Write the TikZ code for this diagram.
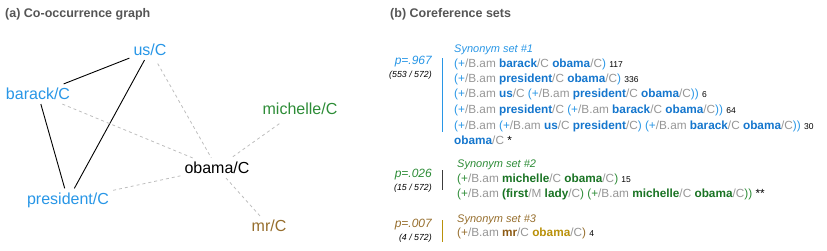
\documentclass[tikz,border=0pt]{standalone}
\usepackage{fontspec}
\setmainfont{Liberation Sans}
\usetikzlibrary{positioning}
\definecolor{CoBlue}{RGB}{40,150,230}
\definecolor{CoBlueDark}{RGB}{20,118,205}
\definecolor{CoGreen}{RGB}{45,140,55}
\definecolor{CoGreenDark}{RGB}{25,115,35}
\definecolor{CoBrown}{RGB}{150,110,45}
\definecolor{CoBrownDark}{RGB}{140,90,20}
\definecolor{CoGold}{RGB}{185,145,10}
\definecolor{CoGray}{RGB}{150,150,150}
\definecolor{CoTitle}{RGB}{85,85,85}
\definecolor{CoEdge}{RGB}{190,190,190}
\definecolor{CoBar}{RGB}{60,60,60}
\newcommand{\opn}{(+\textcolor{CoGray}{/B.am}}
\newcommand{\tgC}{\textcolor{CoGray}{/C}}
\newcommand{\tgM}{\textcolor{CoGray}{/M}}
\newcommand{\cnt}[1]{{\fontsize{8.5}{10}\selectfont\color{black}#1}}
\newcommand{\mrk}[1]{{\color{black}#1}}
\newcommand{\wb}[1]{\textcolor{CoBlueDark}{\bfseries #1}}
\newcommand{\wg}[1]{\textcolor{CoGreenDark}{\bfseries #1}}

\begin{document}
\begin{tikzpicture}[
          x=1pt, y=-1pt,
          word/.style={font=\fontsize{16}{19}\selectfont, inner sep=4pt},
          cooc/.style={black, line width=0.9pt},
          weak/.style={CoEdge, dash pattern=on 3pt off 3pt, line width=0.8pt},
          head/.style={font=\fontsize{12.5}{15}\selectfont\bfseries, text=CoTitle,
                       anchor=base west, inner sep=0pt},
          synset/.style={font=\fontsize{11}{13}\selectfont\itshape,
                         anchor=base west, inner sep=0pt},
          expr/.style={font=\fontsize{11.8}{14}\selectfont, anchor=base west, inner sep=0pt},
          prob/.style={font=\fontsize{12}{14}\selectfont\itshape, anchor=base east, inner sep=0pt},
          ratio/.style={font=\fontsize{8.8}{10}\selectfont\itshape, anchor=base east, inner sep=0pt},
          bar/.style={line width=1pt}
        ]
        \useasboundingbox (0,0) rectangle (827,250);

        \node[head] (ta) at (5,17) {(a) Co-occurrence graph};
        \node[head] (tb) at (390,17) {(b) Coreference sets};

        \node[word, text=CoBlue]  (us)   at (150,50)  {us/C};
        \node[word, text=CoBlue]  (bar)  at (38,94)   {barack/C};
        \node[word, text=CoGreen] (mich) at (300,109) {michelle/C};
        \node[word]               (oba)  at (217,168) {obama/C};
        \node[word, text=CoBlue]  (pres) at (68,200)  {president/C};
        \node[word, text=CoBrown] (mr)   at (269,226) {mr/C};

        \draw[cooc] (bar)--(us);
        \draw[cooc] (bar)--(pres);
        \draw[cooc] (us)--(pres);
        \draw[weak, shorten <=4pt] (us)--(oba);
        \draw[weak] (bar)--(oba);
        \draw[weak] (pres)--(oba);
        \draw[weak, shorten <=8pt] (mich)--(oba);
        \draw[weak] (mr)--(oba);

        \node[prob, text=CoBlue] (p1) at (432,64) {p=.967};
        \node[ratio] (r1) at (432,77) {(553 / 572)};
        \draw[bar, CoBlue] (442,58)--(442,132);
        \node[synset, text=CoBlue] (s1) at (454,52) {Synonym set \#1};
        \node[expr, text=CoBlue] (s1a) at (454,67)
              {\opn{} \wb{barack}\tgC{} \wb{obama}\tgC) \cnt{117}};
        \node[expr, text=CoBlue] (s1b) at (454,82)
              {\opn{} \wb{president}\tgC{} \wb{obama}\tgC) \cnt{336}};
        \node[expr, text=CoBlue] (s1c) at (454,97)
              {\opn{} \wb{us}\tgC{} \opn{} \wb{president}\tgC{} \wb{obama}\tgC)) \cnt{6}};
        \node[expr, text=CoBlue] (s1d) at (454,113)
              {\opn{} \wb{president}\tgC{} \opn{} \wb{barack}\tgC{} \wb{obama}\tgC)) \cnt{64}};
        \node[expr, text=CoBlue] (s1e) at (454,129)
              {\opn{} \opn{} \wb{us}\tgC{} \wb{president}\tgC) \opn{} \wb{barack}\tgC{} \wb{obama}\tgC)) \cnt{30}};
        \node[expr, text=CoBlue] (s1f) at (454,144)
              {\wb{obama}\tgC{} \mrk{*}};

        \node[prob, text=CoGreen] (p2) at (432,177) {p=.026};
        \node[ratio] (r2) at (432,190) {(15 / 572)};
        \draw[bar, CoBar] (442,170)--(442,190);
        \node[synset, text=CoGreen] (s2) at (457,167) {Synonym set \#2};
        \node[expr, text=CoGreen] (s2a) at (457,182)
              {\opn{} \wg{michelle}\tgC{} \wg{obama}\tgC) \cnt{15}};
        \node[expr, text=CoGreen] (s2b) at (457,197)
              {\opn{} \wg{(first}\tgM{} \wg{lady}\tgC) \opn{} \wg{michelle}\tgC{} \wg{obama}\tgC)) \mrk{**}};

        \node[prob, text=CoBrown] (p3) at (432,227) {p=.007};
        \node[ratio] (r3) at (432,240) {(4 / 572)};
        \draw[bar, CoGold] (442,220)--(442,242);
        \node[synset, text=CoBrown] (s3) at (457,222) {Synonym set \#3};
        \node[expr, text=CoBrown] (s3a) at (457,236)
              {\opn{} \textcolor{CoBrownDark}{\bfseries mr}\tgC{} \textcolor{CoGold}{\bfseries obama}\tgC) \cnt{4}};
      \end{tikzpicture}
\end{document}
